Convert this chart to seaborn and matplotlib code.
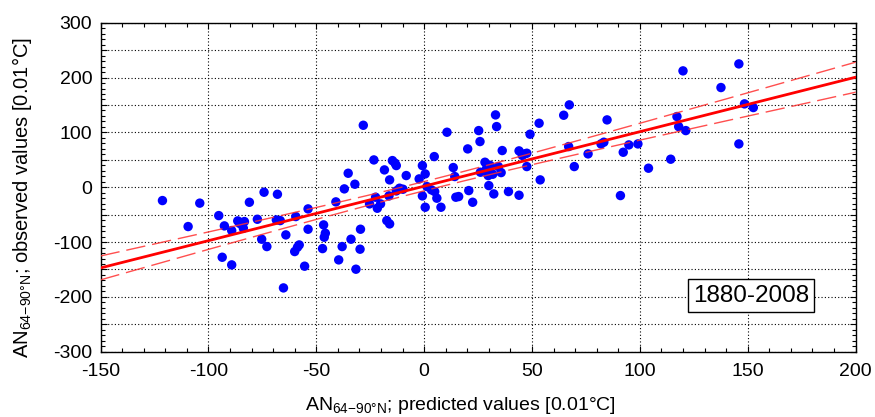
import numpy as np
import pandas as pd
import matplotlib
matplotlib.use("Agg")
import matplotlib.pyplot as plt
from matplotlib.ticker import MultipleLocator, FuncFormatter
import seaborn as sns

# ---- data (predicted, observed) in 0.01 degC ----
predicted = [-121.3, -109.4, -104.0, -95.2, -93.6, -92.6, -89.2, -89.2, -86.4, -84.8,
             -83.8, -83.3, -81.0, -77.3, -75.3, -74.2, -72.9, -68.0, -68.5, -66.7,
             -65.2, -64.1, -60.0, -59.5, -58.7, -57.9, -55.4, -53.8, -53.8, -46.6,
             -46.3, -45.8, -47.1, -40.9, -39.6, -38.0, -37.0, -35.2, -33.9, -32.1,
             -31.6, -29.7, -29.5, -28.2, -25.3, -23.3, -22.5, -21.7, -20.2, -18.4,
             -17.3, -16.0, -16.0, -16.3, -14.7, -12.9, -12.9, -11.4, -9.8, -8.3,
             -2.3, -0.8, -0.8, 0.5, 0.5, 1.3, 3.4, 4.7, 4.9, 5.9,
             7.8, 10.6, 13.5, 14.2, 14.7, 16.0, 20.2, 20.7, 22.5, 25.3,
             25.9, 26.1, 28.2, 29.0, 29.7, 30.0, 31.8, 32.3, 33.1, 33.6,
             34.4, 35.7, 36.2, 39.1, 44.0, 44.0, 46.6, 47.6, 47.6, 49.1,
             53.3, 53.8, 64.7, 67.3, 67.0, 69.6, 76.0, 82.0, 83.3, 84.8,
             91.0, 92.3, 94.9, 99.1, 104.0, 114.3, 117.2, 118.0, 120.0, 121.3,
             137.6, 145.9, 145.9, 148.5, 152.6, -13.5, 45.5, -85.5, 30.5]
observed = [-24.3, -71.7, -29.0, -51.7, -127.7, -70.5, -79.0, -141.6, -61.4, -64.4,
            -74.8, -62.6, -27.4, -58.4, -94.8, -9.1, -108.2, -12.8, -59.6, -60.8,
            -183.6, -86.9, -117.3, -53.5, -109.4, -105.2, -144.0, -39.5, -76.6, -68.7,
            -91.2, -83.9, -111.9, -26.7, -132.5, -108.2, -3.0, 25.5, -94.8, 5.5,
            -149.5, -113.0, -76.6, 113.0, -30.4, 49.8, -18.2, -38.3, -30.4, 31.6,
            -60.8, -66.9, 13.4, -15.8, 48.6, 39.5, -6.7, -1.8, -3.6, 21.3,
            15.2, 39.5, -15.8, 24.3, -36.5, 1.2, -4.9, 55.9, -7.9, -20.0,
            -36.5, 100.3, 35.9, 19.5, -18.2, -17.0, 69.9, -6.1, -27.4, 103.3,
            83.3, 27.4, 45.6, 34.7, 21.3, 3.0, 23.7, -12.2, 131.9, 110.6,
            37.7, 26.7, 66.9, -7.9, -14.6, 66.3, 60.8, 37.7, 62.0, 96.7,
            116.7, 13.4, 131.3, 150.2, 74.2, 37.7, 60.8, 79.0, 82.1, 122.8,
            -15.2, 63.8, 77.2, 79.0, 34.7, 51.1, 128.9, 110.6, 212.2, 103.3,
            181.8, 224.9, 79.0, 152.0, 145.3, 44.0, 58.0, -66.0, 40.0]
period_label = "1880-2008"
x_ticks = [-150, -100, -50, 0, 50, 100, 150, 200]
y_ticks = [-300, -200, -100, 0, 100, 200, 300]

df = pd.DataFrame({"predicted": predicted, "observed": observed})

# ---- fonts ----
sns.set_theme(style="white")
plt.rcParams["font.family"] = ["Liberation Sans", "DejaVu Sans"]
plt.rcParams["axes.unicode_minus"] = False
plt.rcParams["mathtext.fontset"] = "custom"
plt.rcParams["mathtext.rm"] = "Liberation Sans"
plt.rcParams["mathtext.it"] = "Liberation Sans"
plt.rcParams["mathtext.default"] = "rm"

fig = plt.figure(figsize=(8.75, 4.17), dpi=100)
ax = fig.add_axes([0.1149, 0.1565, 0.8629, 0.7890])
ax.set_xlim(-150, 200)
ax.set_ylim(-300, 300)

# scatter + regression line
sns.regplot(data=df, x="predicted", y="observed", ax=ax, ci=None, truncate=False,
            scatter_kws=dict(s=46, color="#0000ff", edgecolor="none", alpha=1, zorder=3),
            line_kws=dict(color="#ff0000", lw=2.0, zorder=4))

# 95% confidence band of the regression (dashed)
x = np.asarray(predicted, float)
y = np.asarray(observed, float)
n = len(x)
b, a = np.polyfit(x, y, 1)
res = y - (a + b * x)
s = np.sqrt(np.sum(res ** 2) / (n - 2))
xm = x.mean()
sxx = np.sum((x - xm) ** 2)
xg = np.linspace(-150, 200, 200)
se = s * np.sqrt(1.0 / n + (xg - xm) ** 2 / sxx)
t = 1.979
for sign in (1, -1):
    ax.plot(xg, a + b * xg + sign * t * se, color="#ff3030", lw=1.0,
            dashes=(14, 5), alpha=0.85, zorder=4)

# grid and ticks
ax.xaxis.set_major_locator(MultipleLocator(50))
ax.xaxis.set_minor_locator(MultipleLocator(10))
ax.yaxis.set_major_locator(MultipleLocator(50))
ax.yaxis.set_minor_locator(MultipleLocator(10))
ax.yaxis.set_major_formatter(FuncFormatter(lambda v, p: f"{int(round(v))}" if round(v) in y_ticks else ""))
ax.xaxis.set_major_formatter(FuncFormatter(lambda v, p: f"{int(round(v))}" if round(v) in x_ticks else ""))
ax.grid(True, which="major", color="black", linestyle=(0, (1, 2)), linewidth=0.8)
ax.tick_params(which="both", direction="in", top=True, right=True, bottom=True, left=True,
               color="black", width=0.8)
ax.tick_params(which="major", length=4, labelsize=14, labelcolor="black")
ax.tick_params(axis="y", which="major", pad=6)
ax.tick_params(axis="x", which="major", pad=8)
ax.tick_params(which="minor", length=3)
for sp in ax.spines.values():
    sp.set_color("black")
    sp.set_linewidth(1.0)

ax.set_xlabel(r"AN$_{64\mathrm{-}90°N}$; predicted values [0.01°C]", fontsize=14,
              color="black", va="top")
ax.set_ylabel(r"AN$_{64\mathrm{-}90°N}$; observed values [0.01°C]", fontsize=14.5,
              color="black", va="center")
ax.xaxis.set_label_coords(0.477, -0.133)
ax.yaxis.set_label_coords(-0.104, 0.469)

ax.text(151.5, -198, period_label, fontsize=17.5, ha="center", va="center",
        family=["Liberation Sans", "DejaVu Sans"], color="black", zorder=6,
        bbox=dict(boxstyle="square,pad=0.22", facecolor="white", edgecolor="black", lw=1.0))

fig.savefig("out.png", dpi=100)
